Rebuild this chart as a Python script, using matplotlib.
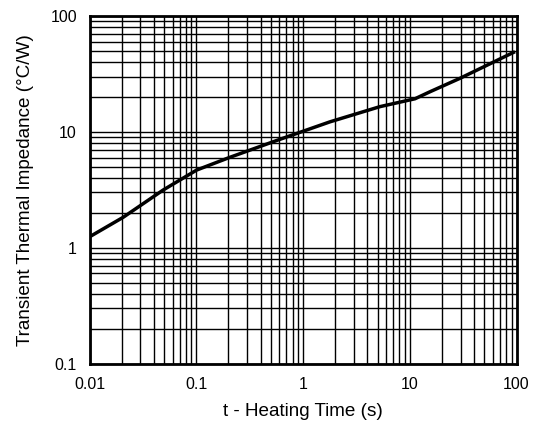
import matplotlib
matplotlib.use("Agg")
import matplotlib.pyplot as plt
from matplotlib.ticker import LogLocator, NullFormatter, FixedLocator, FixedFormatter

# Transient thermal impedance curve
t_sec = [0.01, 0.0207, 0.0491, 0.101, 0.207, 0.609, 1.79, 5.26, 11.2, 15.5, 29.6, 96.8]
z_cw = [1.24, 1.83, 3.15, 4.68, 6.03, 8.62, 12.2, 16.5, 19.3, 22.2, 29.0, 49.2]

x_ticks = [0.01, 0.1, 1, 10, 100]
x_labels = ["0.01", "0.1", "1", "10", "100"]
y_ticks = [0.1, 1, 10, 100]
y_labels = ["0.1", "1", "10", "100"]

plt.rcParams['font.family'] = ['Liberation Sans', 'DejaVu Sans']

fig = plt.figure(figsize=(5.37, 4.25), dpi=100)
ax = fig.add_axes([89.5 / 537, 1 - 363.5 / 425, (516.5 - 89.5) / 537, (363.5 - 16) / 425])

ax.plot(t_sec, z_cw, color='black', linewidth=2.5, solid_capstyle='butt', zorder=3)

ax.set_xscale('log')
ax.set_yscale('log')
ax.set_xlim(0.01, 100)
ax.set_ylim(0.1, 100)

ax.xaxis.set_major_locator(FixedLocator(x_ticks))
ax.xaxis.set_major_formatter(FixedFormatter(x_labels))
ax.yaxis.set_major_locator(FixedLocator(y_ticks))
ax.yaxis.set_major_formatter(FixedFormatter(y_labels))
for axis in (ax.xaxis, ax.yaxis):
  axis.set_minor_locator(LogLocator(base=10, subs=range(2, 10)))
  axis.set_minor_formatter(NullFormatter())

ax.grid(True, which='both', color='black', linewidth=1.0)
ax.tick_params(which='both', length=0, labelsize=11.5)
ax.tick_params(axis='x', pad=10)
ax.tick_params(axis='y', pad=9)

for spine in ax.spines.values():
  spine.set_linewidth(2.0)

ax.set_xlabel('t - Heating Time (s)', fontsize=13.6, labelpad=8)
ax.set_ylabel('Transient Thermal Impedance (°C/W)', fontsize=13.6, labelpad=12)

fig.savefig('out.png', dpi=100)
